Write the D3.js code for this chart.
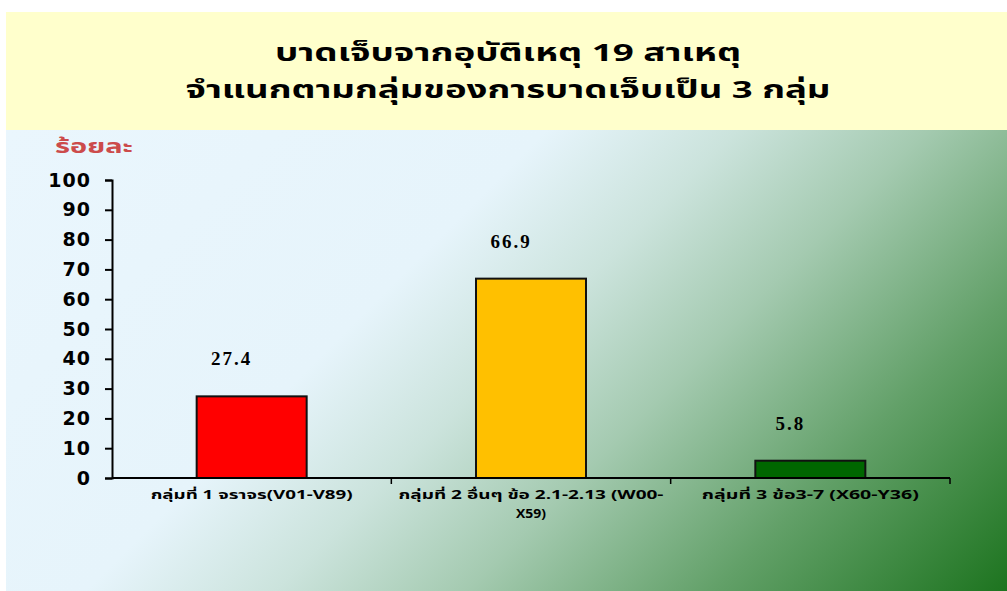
<!DOCTYPE html>
<html>
<head>
<meta charset="utf-8">
<script src="https://cdn.jsdelivr.net/npm/d3@7"></script>
<style>
  body { margin: 0; background: #fff; }
  svg { display: block; }
</style>
</head>
<body>
<svg id="chart" width="1007" height="591"></svg>
<script>
const titleLines = ["บาดเจ็บจากอุบัติเหตุ 19 สาเหตุ", "จำแนกตามกลุ่มของการบาดเจ็บเป็น 3 กลุ่ม"];
const yAxisTitle = "ร้อยละ";
const categories = [
  ["กลุ่มที่  1 จราจร(V01-V89)"],
  ["กลุ่มที่  2 อื่นๆ  ข้อ 2.1-2.13  (W00-", "X59)"],
  ["กลุ่มที่  3 ข้อ3-7  (X60-Y36)"]
];
const values = [27.4, 66.9, 5.8];
const barColors = ["#ff0000", "#ffc000", "#006600"];
const yTicks = [0, 10, 20, 30, 40, 50, 60, 70, 80, 90, 100];

const thaiFont = "Tahoma, 'Noto Sans Thai', 'DejaVu Sans', sans-serif";

const svg = d3.select("#chart");
const margin = { top: 180, left: 112, right: 57, bottom: 113 };
const width = 1007 - margin.left - margin.right;
const height = 591 - margin.top - margin.bottom;

// background
const defs = svg.append("defs");
const grad = defs.append("linearGradient")
  .attr("id", "bg")
  .attr("gradientUnits", "userSpaceOnUse")
  .attr("x1", 6).attr("y1", 130)
  .attr("x2", 737).attr("y2", 861);
[
  [0, "#eaf6fd"], [0.37, "#e6f4fb"], [0.5, "#cbe3dc"],
  [0.63, "#a4cab0"], [0.8, "#62a068"], [1, "#1d741f"]
].forEach(([o, c]) => grad.append("stop").attr("offset", o).attr("stop-color", c));

svg.append("rect")
  .attr("x", 6).attr("y", 130)
  .attr("width", 1001).attr("height", 461)
  .attr("fill", "url(#bg)");

svg.append("rect")
  .attr("x", 6).attr("y", 12)
  .attr("width", 1001).attr("height", 118)
  .attr("fill", "#ffffcc");

// title
const titleWidths = [466, 645];
svg.selectAll(".title")
  .data(titleLines)
  .enter()
  .append("text")
  .attr("class", "title")
  .attr("x", 508)
  .attr("y", (d, i) => 61 + i * 37)
  .attr("text-anchor", "middle")
  .attr("font-family", thaiFont)
  .attr("font-weight", "bold")
  .attr("font-size", "24px")
  .attr("textLength", (d, i) => titleWidths[i])
  .attr("lengthAdjust", "spacingAndGlyphs")
  .attr("fill", "#000")
  .text(d => d);

svg.append("text")
  .attr("x", 55)
  .attr("y", 153)
  .attr("font-family", thaiFont)
  .attr("font-weight", "bold")
  .attr("font-size", "20px")
  .attr("textLength", 78)
  .attr("lengthAdjust", "spacingAndGlyphs")
  .attr("fill", "#cc4b4b")
  .text(yAxisTitle);

const chart = svg.append("g")
  .attr("transform", `translate(${margin.left},${margin.top})`);

const band = d3.scaleBand()
  .domain(d3.range(categories.length))
  .range([0, width]);

const y = d3.scaleLinear()
  .domain([0, 100])
  .range([height, 0]);

// Y axis
const yAxis = chart.append("g")
  .call(d3.axisLeft(y).tickValues(yTicks).tickSize(7).tickPadding(14));
yAxis.select(".domain").attr("stroke", "#000").attr("stroke-width", 2);
yAxis.selectAll(".tick line").attr("stroke-width", 2);
yAxis.selectAll("text")
  .attr("font-family", "Verdana, 'DejaVu Sans', sans-serif")
  .attr("font-weight", "bold")
  .attr("font-size", "19px")
  .attr("letter-spacing", "1px")
  .attr("fill", "#000");

// Bars
chart.selectAll(".bar")
  .data(values)
  .enter()
  .append("rect")
  .attr("class", "bar")
  .attr("x", (d, i) => band(i) + (band.bandwidth() - 110) / 2)
  .attr("width", 110)
  .attr("y", d => y(d))
  .attr("height", d => height - y(d))
  .attr("fill", (d, i) => barColors[i])
  .attr("stroke", "#111")
  .attr("stroke-width", 2);

// X axis
chart.append("line")
  .attr("x1", 0).attr("x2", width)
  .attr("y1", height).attr("y2", height)
  .attr("stroke", "#000").attr("stroke-width", 2);
chart.selectAll(".xtick")
  .data(d3.range(1, categories.length + 1))
  .enter()
  .append("line")
  .attr("x1", d => d === categories.length ? width : band(d))
  .attr("x2", d => d === categories.length ? width : band(d))
  .attr("y1", height)
  .attr("y2", height + 6)
  .attr("stroke", "#000").attr("stroke-width", 1.5);

// category labels
const labelWidths = [[202], [265, 30], [217]];
chart.selectAll(".xlabel")
  .data(categories)
  .enter()
  .append("g")
  .attr("class", "xlabel")
  .each(function (lines, i) {
    d3.select(this).selectAll("text")
      .data(lines)
      .enter()
      .append("text")
      .attr("x", band(i) + band.bandwidth() / 2)
      .attr("y", (d, j) => height + 21 + j * 19)
      .attr("text-anchor", "middle")
      .attr("font-family", thaiFont)
      .attr("font-weight", "bold")
      .attr("font-size", "12px")
      .attr("fill", "#000")
      .attr("textLength", (d, j) => labelWidths[i][j] || null)
      .attr("lengthAdjust", "spacingAndGlyphs")
      .text(d => d);
  });

// value labels
chart.selectAll(".val")
  .data(values)
  .enter()
  .append("text")
  .attr("class", "val")
  .attr("x", (d, i) => band(i) + band.bandwidth() / 2 - 20)
  .attr("y", d => y(d) - 31)
  .attr("text-anchor", "middle")
  .attr("font-family", "'Times New Roman', 'Liberation Serif', serif")
  .attr("font-weight", "bold")
  .attr("font-size", "19px")
  .attr("letter-spacing", "2px")
  .attr("fill", "#000")
  .text(d => d.toFixed(1));
</script>
</body>
</html>
